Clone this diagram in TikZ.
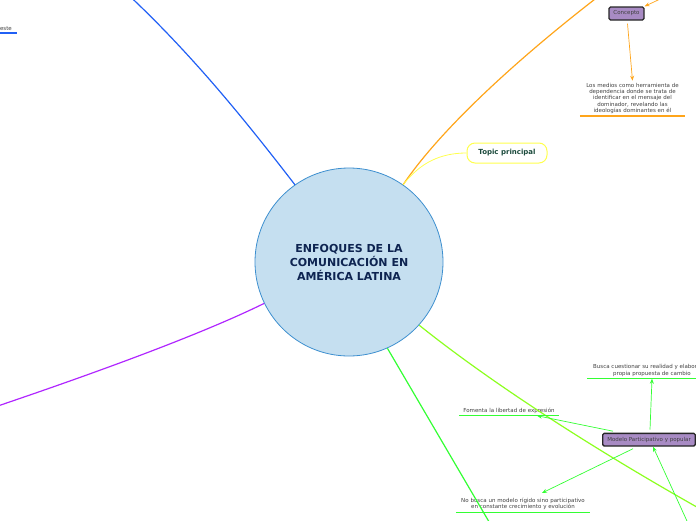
\documentclass[tikz,border=0pt]{standalone}
\usepackage{fontspec}
\setmainfont{DejaVu Sans}
\usepackage{xcolor}
\usepackage{tikz}
\usetikzlibrary{arrows.meta}

\definecolor{hubfill}{HTML}{C5DFF0}
\definecolor{hubline}{HTML}{3D8FCF}
\definecolor{hubtext}{HTML}{0E2451}
\definecolor{bluebr}{HTML}{2160F5}
\definecolor{orangebr}{HTML}{FFA51A}
\definecolor{purplebr}{HTML}{B026FF}
\definecolor{limebr}{HTML}{8CFF1F}
\definecolor{greenbr}{HTML}{33FF33}
\definecolor{yellowbr}{HTML}{FFFF4D}
\definecolor{boxfill}{HTML}{A88BC4}
\definecolor{leaftext}{HTML}{404040}
\definecolor{topictext}{HTML}{1B4A3C}

\begin{document}
\begin{tikzpicture}[x=1pt,y=-1pt,
    hub/.style={shape=circle, draw=hubline, fill=hubfill, line width=0.8pt, minimum size=188pt, inner sep=0pt, align=center, text=hubtext, font=\fontsize{11}{14}\selectfont\bfseries},
    topic/.style={draw=yellowbr, rounded corners=8pt, line width=1pt, minimum width=80pt, minimum height=20pt, text=topictext, font=\fontsize{7}{8}\selectfont\bfseries},
    subbox/.style={draw=black!85, fill=boxfill, rounded corners=1.5pt, line width=1.3pt, inner sep=0pt, text=black!75, font=\fontsize{5.5}{6}\selectfont},
    leaf/.style={inner xsep=0pt, inner ysep=2pt, align=center, text=leaftext, font=\fontsize{5.5}{6.4}\selectfont},
    branch/.style={line width=1.2pt},
    link/.style={line width=0.7pt, -{Stealth[length=5pt,width=4pt]}},
    rule/.style={line width=1.2pt}]
    \useasboundingbox (0,0) rectangle (696,520);
    \clip (0,0) rectangle (696,520);

    % central topic
    \node[hub] (hub) at (349,262) {ENFOQUES DE LA\\COMUNICACIÓN EN\\ AMÉRICA LATINA};
    \node[topic] (topic) at (507,153) {Topic principal};

    % top right
    \node[subbox, minimum width=35pt, minimum height=13pt] (concepto) at (626.5,13.5) {Concepto};
    \node[leaf, text width=105pt, anchor=south] (medios) at (632.5,116) {Los medios como herramienta de\\dependencia donde se trata de\\identificar en el mensaje del\\dominador, revelando las\\ideologías dominantes en él};

    % bottom right
    \node[subbox, minimum width=92.6pt, minimum height=12.7pt] (modelo) at (649,439.7) {Modelo Participativo y popular};
    \node[leaf, text width=130pt, anchor=south] (busca) at (652,378.7) {Busca cuestionar su realidad y elaborar su\\propia propuesta de cambio};
    \node[leaf, text width=100pt, anchor=south] (fomenta) at (509,415.7) {Fomenta la libertad de expresión};
    \node[leaf, text width=134pt, anchor=south] (nobusca) at (523,512.3) {No busca un modelo rígido sino participativo\\en constante crecimiento y evolución};

    % top left
    \node[leaf, inner xsep=5pt, anchor=south east] (este) at (17,33) {este};

    \coordinate (blueout) at (110,-22);
    \coordinate (orangeout) at (620,-20);
    \coordinate (concin) at (675,-8);
    \coordinate (purpleout) at (-20,412);
    \coordinate (limeout) at (720,520);
    \coordinate (greenout) at (495,532);
    \coordinate (lowin) at (692,532);

    % branches
    \draw[branch, bluebr] (hub.125) .. controls (245,120) and (185,45) .. (blueout);
    \draw[branch, orangebr] (hub.55) .. controls (440,130) and (520,55) .. (orangeout);
    \draw[line width=0.8pt, yellowbr] (hub.55) .. controls (420,163) and (440,153) .. (topic.west);
    \draw[branch, purplebr] (hub.206) .. controls (200,335) and (90,375) .. (purpleout);
    \draw[branch, limebr] (hub.-42) .. controls (485,378) and (590,448) .. (limeout);
    \draw[branch, greenbr] (hub.-66) -- (greenout);

    % underlines
    \draw[rule, bluebr] (este.south west) -- (este.south east);
    \draw[rule, orangebr] (medios.south west) -- (medios.south east);
    \draw[rule, greenbr] (busca.south west) -- (busca.south east);
    \draw[rule, greenbr] (fomenta.south west) -- (fomenta.south east);
    \draw[rule, greenbr] (nobusca.south west) -- (nobusca.south east);

    % arrows
    \draw[link, orangebr] (concin) -- (concepto.north east);
    \draw[link, orangebr] ([xshift=1pt,yshift=-3pt]concepto.south) -- (medios.north);
    \draw[link, greenbr] ([xshift=1pt,yshift=3pt]modelo.north) -- (busca.south);
    \draw[link, greenbr] ([xshift=-36pt,yshift=1.5pt]modelo.north) -- ([xshift=28pt]fomenta.south);
    \draw[link, greenbr] ([xshift=-16pt,yshift=-2pt]modelo.south) -- ([xshift=19pt,yshift=3pt]nobusca.north);
    \draw[link, greenbr] (lowin) -- ([xshift=4pt]modelo.south);
\end{tikzpicture}
\end{document}
